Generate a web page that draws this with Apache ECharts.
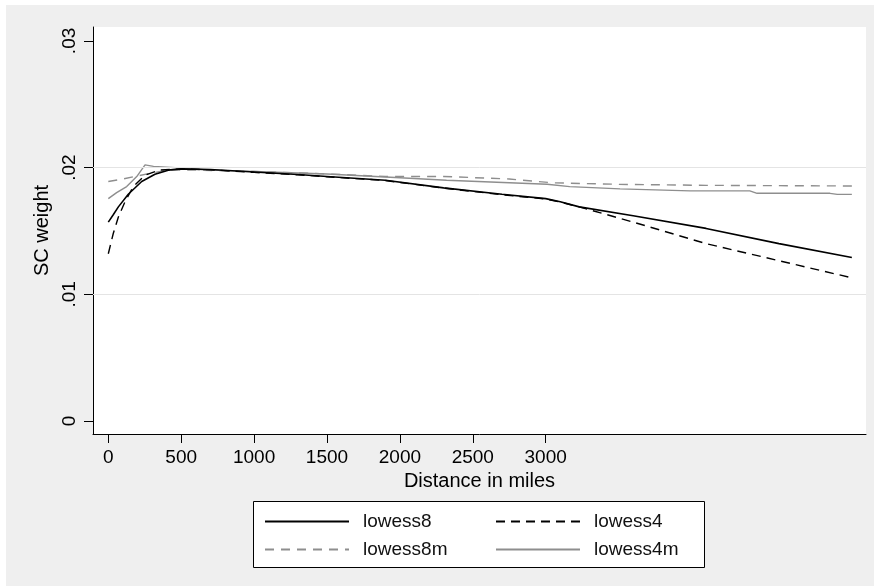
<!DOCTYPE html>
<html>
<head>
<meta charset="utf-8">
<script src="https://cdn.jsdelivr.net/npm/echarts@6/dist/echarts.min.js"></script>
<style>
html,body{margin:0;padding:0;background:#fff;}
#chart{width:874px;height:586px;}
</style>
</head>
<body>
<div id="chart"></div>
<script>
// ---- data ----
const xTicks = [0, 500, 1000, 1500, 2000, 2500, 3000];
const yTicks = [0, 0.01, 0.02, 0.03];
const seriesNames = ['lowess8', 'lowess4', 'lowess8m', 'lowess4m'];

const lowess8X = [0, 35, 69, 137, 229, 320, 411, 500, 700, 1000, 1300, 1500, 1900, 2300, 2700, 3000, 3100, 3230, 3600, 4100, 4600, 5100];
const lowess8Y = [0.0157, 0.0163, 0.0169, 0.0179, 0.0189, 0.01947, 0.0198, 0.0199, 0.01985, 0.01965, 0.01945, 0.0193, 0.0190, 0.0184, 0.0179, 0.01755, 0.01731, 0.0169, 0.0162, 0.0152, 0.0140, 0.0129];

const lowess4X = [0, 34, 69, 114, 171, 252, 350, 500, 700, 1000, 1300, 1500, 1900, 2300, 2700, 3000, 3100, 3230, 3600, 4100, 4600, 5100];
const lowess4Y = [0.0132, 0.0148, 0.0161, 0.0173, 0.0185, 0.0194, 0.0198, 0.0199, 0.01983, 0.01962, 0.01943, 0.01928, 0.01898, 0.01838, 0.01786, 0.01752, 0.01728, 0.0169, 0.0157, 0.0140, 0.01265, 0.0113];

const lowess8mX = [0, 100, 183, 286, 410, 600, 1000, 1500, 1900, 2300, 2750, 3050, 3500, 4100, 5100];
const lowess8mY = [0.0189, 0.0191, 0.0193, 0.01955, 0.0198, 0.0198, 0.0197, 0.0195, 0.0193, 0.0193, 0.0191, 0.0188, 0.01868, 0.0186, 0.01855];

const lowess4mX = [0, 57, 126, 195, 252, 310, 460, 700, 1000, 1500, 2000, 2320, 3010, 3165, 3510, 3990, 4400, 4450, 4950, 5000, 5100];
const lowess4mY = [0.01755, 0.01803, 0.0185, 0.01929, 0.02022, 0.0201, 0.0200, 0.0198, 0.0197, 0.0195, 0.0192, 0.0190, 0.01869, 0.0185, 0.01832, 0.01816, 0.01816, 0.01797, 0.01797, 0.01789, 0.01789];

function pairs(xs, ys) { return xs.map((x, i) => [x, ys[i]]); }

const FONT = "'Liberation Sans', Arial, sans-serif";
const GRAY = '#8e8e8e';

const chart = echarts.init(document.getElementById('chart'), null, {renderer: 'canvas'});

const legendCommon = {
  orient: 'vertical',
  top: 502,
  padding: [10, 0, 0, 11],
  itemWidth: 84,
  itemHeight: 20,
  itemGap: 9,
  selectedMode: false,
  itemStyle: {opacity: 0},
  textStyle: {fontFamily: FONT, fontSize: 19, color: '#111', padding: [0, 0, 0, 9]}
};

chart.setOption({
  animation: false,
  backgroundColor: '#efefef',
  textStyle: {fontFamily: FONT},
  graphic: [
    {type: 'rect', shape: {x: 0, y: 0, width: 874, height: 5}, style: {fill: '#fff'}, z: 0, silent: true},
    {type: 'rect', shape: {x: 0, y: 0, width: 6, height: 586}, style: {fill: '#fff'}, z: 0, silent: true},
    {type: 'rect', shape: {x: 253.5, y: 501.5, width: 451, height: 66}, style: {fill: '#fff', stroke: '#000', lineWidth: 1}, z: 1, silent: true}
  ],
  legend: [
    Object.assign({}, legendCommon, {left: 253, data: [seriesNames[0], seriesNames[2]]}),
    Object.assign({}, legendCommon, {left: 484, data: [seriesNames[1], seriesNames[3]]})
  ],
  grid: {left: 93, right: 8, top: 27, bottom: 152, show: true, backgroundColor: '#fff', borderWidth: 0},
  xAxis: {
    type: 'value', min: -105, max: 5197,
    name: 'Distance in miles', nameLocation: 'middle', nameGap: 32,
    nameTextStyle: {fontFamily: FONT, fontSize: 20, color: '#000'},
    axisLine: {show: true, onZero: false, lineStyle: {color: '#000', width: 1}},
    axisTick: {show: true, length: 9, customValues: xTicks, lineStyle: {color: '#000'}},
    axisLabel: {show: true, customValues: xTicks, margin: 14, fontFamily: FONT, fontSize: 19, color: '#000',
      formatter: v => String(Math.round(v))},
    splitLine: {show: false}
  },
  yAxis: {
    type: 'value', min: -0.00103, max: 0.0311,
    name: 'SC weight', nameLocation: 'middle', nameRotate: 90, nameGap: 40,
    nameTextStyle: {fontFamily: FONT, fontSize: 20, color: '#000'},
    axisLine: {show: true, onZero: false, lineStyle: {color: '#000', width: 1}},
    axisTick: {show: true, length: 9, customValues: yTicks, lineStyle: {color: '#000'}},
    axisLabel: {show: true, customValues: yTicks, rotate: 90, margin: 14, fontFamily: FONT, fontSize: 19, color: '#000',
      formatter: v => (Math.abs(v) < 1e-9 ? '0' : '.0' + Math.round(v * 100))},
    splitLine: {show: false}
  },
  series: [
    {
      name: 'gridlines', type: 'line', data: [[0, 0.01]], symbol: 'none', silent: true, z: 1,
      lineStyle: {opacity: 0},
      markLine: {silent: true, symbol: ['none', 'none'], label: {show: false},
        lineStyle: {color: '#e4e4e4', type: 'solid', width: 1},
        data: [{yAxis: 0.01}, {yAxis: 0.02}]}
    },
    {name: seriesNames[0], type: 'line', data: pairs(lowess8X, lowess8Y), symbol: 'none', z: 5,
      itemStyle: {color: '#000'}, lineStyle: {color: '#000', width: 1.6, type: 'solid'}},
    {name: seriesNames[1], type: 'line', data: pairs(lowess4X, lowess4Y), symbol: 'none', z: 5,
      itemStyle: {color: '#000'}, lineStyle: {color: '#000', width: 1.4, type: [9, 6]}},
    {name: seriesNames[2], type: 'line', data: pairs(lowess8mX, lowess8mY), symbol: 'none', z: 4,
      itemStyle: {color: GRAY}, lineStyle: {color: GRAY, width: 1.4, type: [9, 7]}},
    {name: seriesNames[3], type: 'line', data: pairs(lowess4mX, lowess4mY), symbol: 'none', z: 4,
      itemStyle: {color: GRAY}, lineStyle: {color: GRAY, width: 1.4, type: 'solid'}}
  ]
});
</script>
</body>
</html>
